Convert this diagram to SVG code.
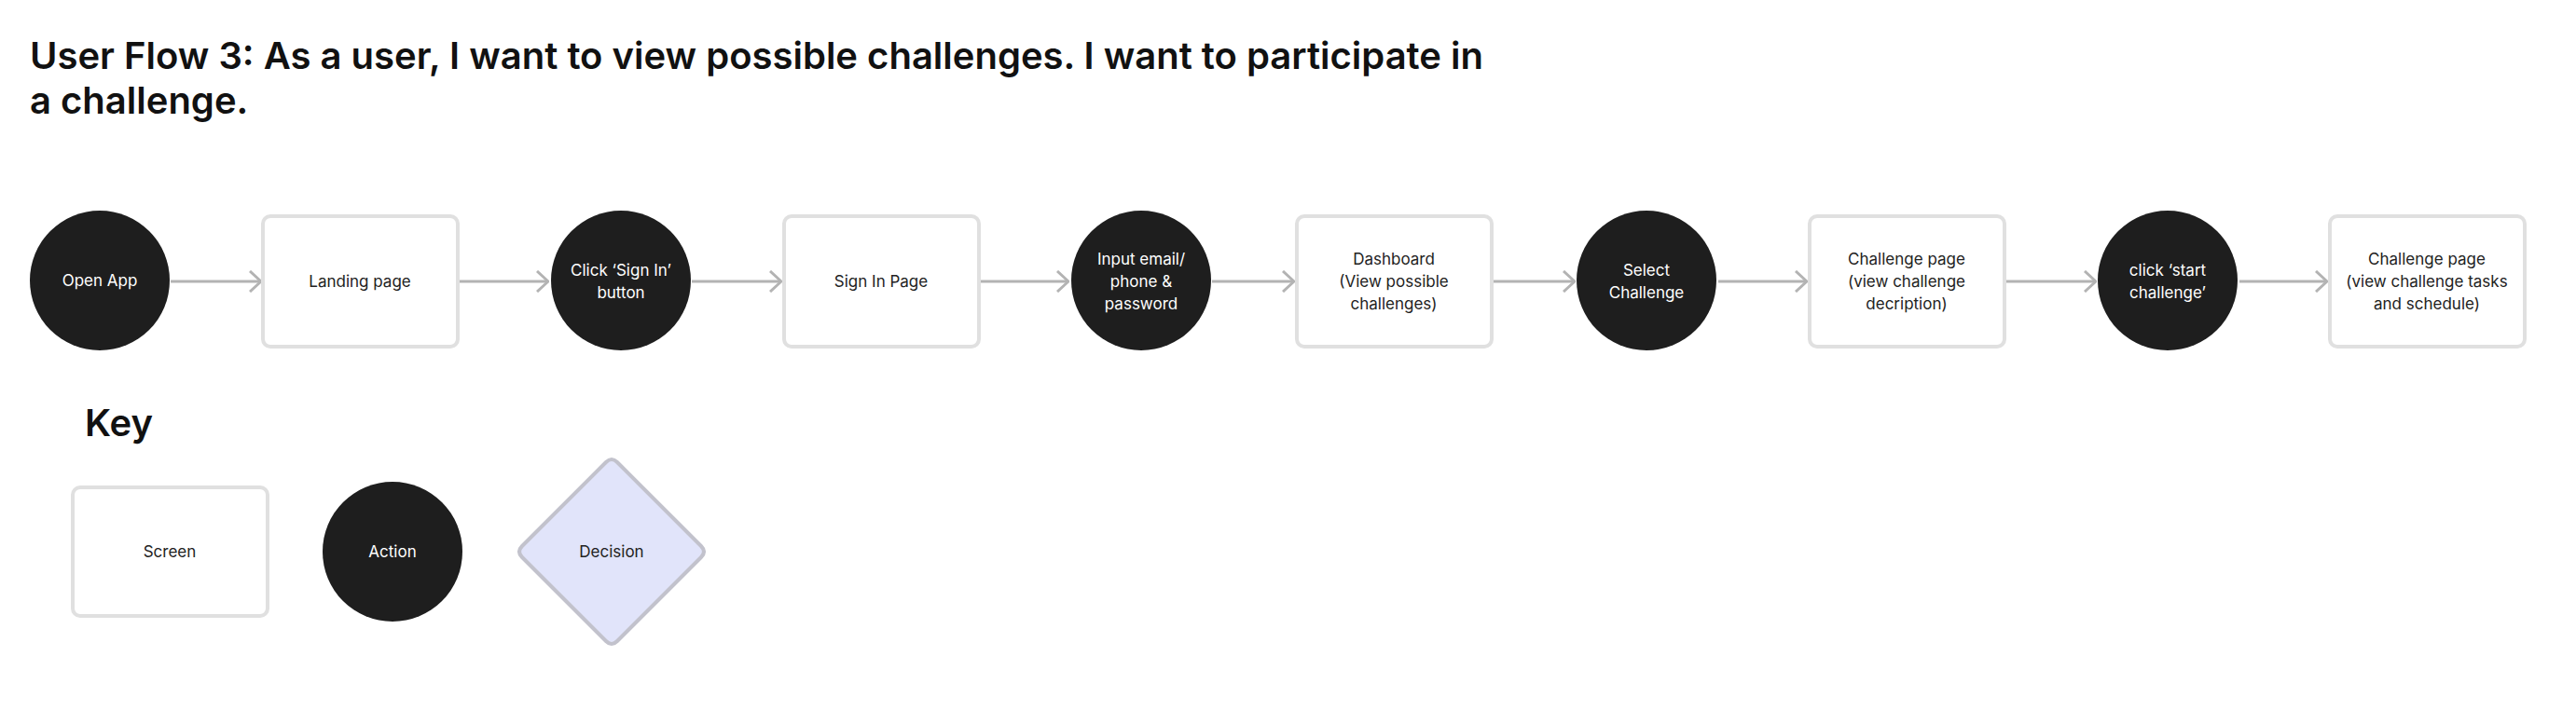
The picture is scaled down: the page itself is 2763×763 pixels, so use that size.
<svg xmlns="http://www.w3.org/2000/svg" width="2763" height="763" viewBox="0 0 2763 763">
<style>
.scr{fill:#fff;stroke:#e0e0e0;stroke-width:4}
.act{fill:#1e1e1e}
.t{font-family:Inter,"Liberation Sans",sans-serif;font-size:17px;text-anchor:middle}
.d{fill:#222}
.w{fill:#fff}
.c{stroke:#b3b3b3;stroke-width:3;fill:none}
.h{font-family:Inter,"Liberation Sans",sans-serif;font-weight:600;font-size:40px;fill:#111}
</style>
<defs>
<marker id="a" markerWidth="14" markerHeight="24" refX="13" refY="12" orient="auto" markerUnits="userSpaceOnUse">
<path d="M1,1 L13,12 L1,23" fill="none" stroke="#b3b3b3" stroke-width="3"/>
</marker>
</defs>
<rect width="2763" height="763" fill="#fff"/>
<text class="h" x="32" y="74">User Flow 3: As a user, I want to view possible challenges. I want to participate in</text>
<text class="h" x="32" y="122">a challenge.</text>
<g id="connectors">
<line class="c" x1="183" y1="302" x2="280" y2="302" marker-end="url(#a)"/>
<line class="c" x1="492" y1="302" x2="588" y2="302" marker-end="url(#a)"/>
<line class="c" x1="742" y1="302" x2="838" y2="302" marker-end="url(#a)"/>
<line class="c" x1="1052" y1="302" x2="1146" y2="302" marker-end="url(#a)"/>
<line class="c" x1="1300" y1="302" x2="1388" y2="302" marker-end="url(#a)"/>
<line class="c" x1="1602" y1="302" x2="1689" y2="302" marker-end="url(#a)"/>
<line class="c" x1="1843" y1="302" x2="1938" y2="302" marker-end="url(#a)"/>
<line class="c" x1="2152" y1="302" x2="2248" y2="302" marker-end="url(#a)"/>
<line class="c" x1="2402" y1="302" x2="2496" y2="302" marker-end="url(#a)"/>
</g>
<g id="n1"><circle class="act" cx="107" cy="301" r="75"/><text class="t w" x="107" y="307">Open App</text></g>
<g id="n2"><rect class="scr" x="282" y="232" width="209" height="140" rx="8"/><text class="t d" x="386" y="308">Landing page</text></g>
<g id="n3"><circle class="act" cx="666" cy="301" r="75"/><text class="t w" x="666" y="296">Click ‘Sign In’</text><text class="t w" x="666" y="320">button</text></g>
<g id="n4"><rect class="scr" x="841" y="232" width="209" height="140" rx="8"/><text class="t d" x="945" y="308">Sign In Page</text></g>
<g id="n5"><circle class="act" cx="1224" cy="301" r="75"/><text class="t w" x="1224" y="284">Input email/</text><text class="t w" x="1224" y="308">phone &amp;</text><text class="t w" x="1224" y="332">password</text></g>
<g id="n6"><rect class="scr" x="1391" y="232" width="209" height="140" rx="8"/><text class="t d" x="1495" y="284">Dashboard</text><text class="t d" x="1495" y="308">(View possible</text><text class="t d" x="1495" y="332">challenges)</text></g>
<g id="n7"><circle class="act" cx="1766" cy="301" r="75"/><text class="t w" x="1766" y="296">Select</text><text class="t w" x="1766" y="320">Challenge</text></g>
<g id="n8"><rect class="scr" x="1941" y="232" width="209" height="140" rx="8"/><text class="t d" x="2045" y="284">Challenge page</text><text class="t d" x="2045" y="308">(view challenge</text><text class="t d" x="2045" y="332">decription)</text></g>
<g id="n9"><circle class="act" cx="2325" cy="301" r="75"/><text class="t w" x="2325" y="296">click ‘start</text><text class="t w" x="2325" y="320">challenge’</text></g>
<g id="n10"><rect class="scr" x="2499" y="232" width="209" height="140" rx="8"/><text class="t d" x="2603" y="284">Challenge page</text><text class="t d" x="2603" y="308">(view challenge tasks</text><text class="t d" x="2603" y="332">and schedule)</text></g>
<text class="h" x="91" y="468">Key</text>
<g id="k1"><rect class="scr" x="78" y="523" width="209" height="138" rx="8"/><text class="t d" x="182" y="598">Screen</text></g>
<g id="k2"><circle class="act" cx="421" cy="592" r="75"/><text class="t w" x="421" y="598">Action</text></g>
<g id="k3"><path d="M650,496 Q656,490 662,496 L752,586 Q758,592 752,598 L662,688 Q656,694 650,688 L560,598 Q554,592 560,586 Z" fill="#e1e4fa" stroke="#c2c2cc" stroke-width="4"/><text class="t d" x="656" y="598">Decision</text></g>
</svg>
